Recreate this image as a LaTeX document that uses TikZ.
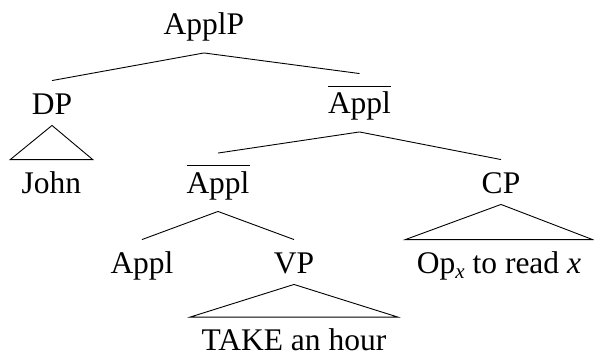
\documentclass[tikz,border=0pt]{standalone}
\usepackage{fontspec}
\setmainfont{Liberation Serif}
\newcommand{\ovl}[1]{\vbox{\hrule height 1pt\kern 5pt\hbox{#1}}}
\begin{document}
\begin{tikzpicture}[x=1pt,y=-1pt,
  font=\fontsize{31.5}{36}\selectfont,
  line width=0.9pt,
  lbl/.style={anchor=base, inner sep=0pt, text height=33pt, text depth=18pt},
  barlbl/.style={lbl, text height=39.5pt},
  rooflbl/.style={lbl, text depth=11pt},
  leaf/.style={anchor=base, inner xsep=11pt, inner ysep=0pt, text height=33pt, text depth=2pt}]
\useasboundingbox (0,0) rectangle (594,356);
\node[lbl] (applp) at (204,34.5) {ApplP};
\node[rooflbl] (dp) at (52,114) {DP};
\node[barlbl] (abar1) at (359.5,113.5) {\ovl{Appl}};
\node[leaf] (john) at (51.5,193) {John};
\node[barlbl] (abar2) at (218,193) {\ovl{Appl}};
\node[rooflbl] (cp) at (501,193) {CP};
\node[lbl] (appl) at (142,273) {Appl};
\node[rooflbl] (vp) at (294,273) {VP};
\node[leaf] (op) at (499,273) {Op\raisebox{-5pt}{\fontsize{21}{21}\selectfont\itshape x} to read \textit{x}};
\node[leaf] (take) at (294,350.5) {TAKE an hour};
\draw (applp.south) -- (dp.north);
\draw (applp.south) -- (abar1.north);
\draw (abar1.south) -- (abar2.north);
\draw (abar1.south) -- (cp.north);
\draw (abar2.south) -- (appl.north);
\draw (abar2.south) -- (vp.north);
\draw (dp.south) -- (john.north west) -- (john.north east) -- cycle;
\draw (cp.south) -- (op.north west) -- (op.north east) -- cycle;
\draw (vp.south) -- (take.north west) -- (take.north east) -- cycle;
\end{tikzpicture}
\end{document}
